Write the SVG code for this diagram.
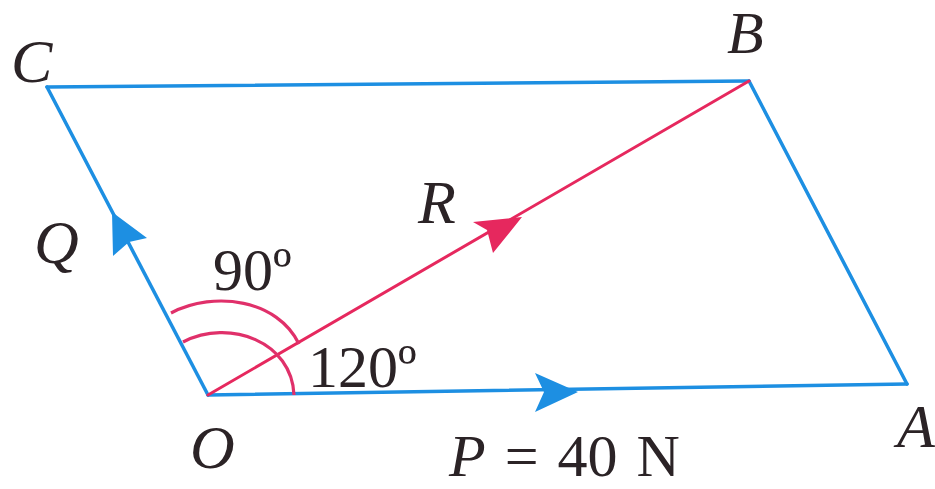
<svg xmlns="http://www.w3.org/2000/svg" width="935" height="489" viewBox="0 0 935 489">
<style>
.edge{fill:none;stroke:#1d8fe2;stroke-width:3.5;stroke-linecap:round;stroke-linejoin:miter}
.res{fill:none;stroke:#e6285e;stroke-width:3;stroke-linecap:round}
.arc{fill:none;stroke:#e0306a;stroke-width:3.2}
.ab{fill:#1d8fe2}
.ar{fill:#e6285e}
.lbl{font-family:"Liberation Serif","Times New Roman",serif;font-style:italic;font-size:62px;fill:#2b2326}
.num{font-family:"Liberation Serif","Times New Roman",serif;font-size:60px;fill:#2b2326}
</style>
<rect width="935" height="489" fill="#ffffff"/>
<g id="connectors">
<path id="OA" class="edge" d="M208,395 L907,384"/>
<path id="AB" class="edge" d="M907,384 L749,81"/>
<path id="BC" class="edge" d="M749,81 L47,87"/>
<path id="CO" class="edge" d="M47,87 L208,395"/>
<path id="OB" class="res" d="M208,395 L749,81"/>
<path id="arc120" class="arc" d="M183,342 C230,318 292,342 294,395"/>
<path id="arc90" class="arc" d="M171,313 C215,290 278,300 299,344"/>
<polygon class="ab" points="578,392 535,373 544,392 535,412"/>
<polygon class="ab" points="112,212 147,238 129,242 113,256"/>
<polygon class="ar" points="522,217 473,222 487,230 493,253"/>
</g>
<g id="node-C"><text class="lbl" x="11" y="82">C</text></g>
<g id="node-B"><text class="lbl" x="727" y="53" style="font-size:60px">B</text></g>
<g id="node-A"><text class="lbl" x="897" y="447">A</text></g>
<g id="node-O"><text class="lbl" x="190" y="468">O</text></g>
<g id="label-Q"><text class="lbl" x="34" y="263">Q</text></g>
<g id="label-R"><text class="lbl" x="418" y="223">R</text></g>
<g id="label-90"><text class="num" x="213" y="290">90º</text></g>
<g id="label-120"><text class="num" x="308" y="387">120º</text></g>
<g id="label-P"><text class="num" x="449" y="476" style="word-spacing:4px"><tspan font-style="italic">P</tspan> = 40 N</text></g>
</svg>
